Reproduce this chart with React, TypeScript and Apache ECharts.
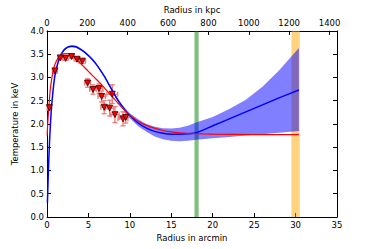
import React, { useEffect, useRef } from "react";
import * as echarts from "echarts";

// Observed data points (arcmin, keV) with errors
const arcmin = [0.28, 0.96, 1.6, 2.25, 2.97, 3.62, 4.26, 4.9, 5.55, 6.27, 6.6, 6.9, 7.56, 7.88, 8.2, 9.17, 9.5];
const tempKeV = [2.35, 3.14, 3.42, 3.41, 3.45, 3.39, 3.35, 2.88, 2.74, 2.76, 2.59, 2.36, 2.34, 2.64, 2.2, 2.11, 2.14];
const xErr = [0.25, 0.3, 0.3, 0.3, 0.3, 0.35, 0.4, 0.35, 0.4, 0.45, 0.45, 0.4, 0.5, 0.65, 0.5, 0.6, 0.8];
const yErr = [0.05, 0.05, 0.04, 0.04, 0.04, 0.04, 0.05, 0.09, 0.1, 0.1, 0.12, 0.14, 0.17, 0.2, 0.17, 0.15, 0.12];

// Red model curve
const redX = [0.02, 0.1, 0.2, 0.4, 0.6, 0.8, 1.0, 1.4, 1.8, 2.4, 3.0, 3.5, 4.0, 4.5, 5.0, 5.5, 6.0, 6.5, 7.0, 7.5, 8.0, 8.5, 9.0, 9.5, 10, 11, 12, 13, 14, 15, 16, 18, 20, 25, 30.4];
const redT = [1.75, 2.05, 2.3, 2.75, 3.0, 3.18, 3.3, 3.43, 3.5, 3.51, 3.48, 3.4, 3.31, 3.22, 3.13, 3.04, 2.95, 2.86, 2.76, 2.66, 2.56, 2.46, 2.36, 2.27, 2.19, 2.06, 1.97, 1.91, 1.86, 1.83, 1.81, 1.79, 1.78, 1.77, 1.77];

// Blue model curve and its uncertainty band
const blueX = [0.05, 0.15, 0.3, 0.5, 0.75, 1.0, 1.5, 2.0, 2.5, 3.0, 3.5, 4.0, 4.5, 5.0, 5.5, 6.0, 6.5, 7.0, 7.5, 8.0, 8.5, 9.0, 9.5, 10, 11, 12, 13, 14, 15, 16, 17, 18, 20, 22, 24, 26, 28, 30.4];
const blueT = [0.3, 0.9, 1.6, 2.25, 2.75, 3.08, 3.42, 3.58, 3.65, 3.67, 3.66, 3.61, 3.55, 3.47, 3.38, 3.27, 3.14, 3.0, 2.84, 2.68, 2.53, 2.4, 2.28, 2.18, 2.02, 1.91, 1.84, 1.8, 1.78, 1.78, 1.79, 1.81, 1.96, 2.11, 2.26, 2.41, 2.56, 2.73];
const bandLow = [0.28, 0.88, 1.58, 2.23, 2.73, 3.06, 3.4, 3.56, 3.63, 3.65, 3.64, 3.59, 3.53, 3.45, 3.36, 3.25, 3.12, 2.98, 2.82, 2.65, 2.5, 2.37, 2.24, 2.12, 1.95, 1.83, 1.73, 1.67, 1.64, 1.63, 1.64, 1.66, 1.69, 1.72, 1.75, 1.78, 1.81, 1.85];
const bandHigh = [0.32, 0.92, 1.62, 2.27, 2.77, 3.1, 3.44, 3.6, 3.67, 3.69, 3.68, 3.63, 3.57, 3.49, 3.4, 3.29, 3.16, 3.02, 2.86, 2.71, 2.56, 2.43, 2.32, 2.23, 2.1, 2.0, 1.94, 1.91, 1.9, 1.92, 1.96, 2.03, 2.15, 2.32, 2.52, 2.8, 3.15, 3.63];

// Vertical marker bands (arcmin)
const greenBand = [17.8, 18.3];
const orangeBand = [29.5, 30.5];

// Axis ranges
const kpcMax = 1437;

const FONT = "DejaVu Sans";

export default function App() {
  const ref = useRef<HTMLDivElement>(null);
  useEffect(() => {
    const chart = echarts.init(ref.current!, null, { renderer: "svg" });
    const txt = { color: "#000", fontFamily: FONT, fontSize: 8.5 };
    const errData = arcmin.map((x, i) => [x, tempKeV[i], xErr[i], yErr[i]]);
    const axisCommon = {
      axisLine: { show: true, onZero: false, lineStyle: { color: "#000", width: 1 } },
      axisTick: { show: true, inside: true, length: 4, lineStyle: { color: "#000" } },
      splitLine: { show: false },
    };
    chart.setOption({
      animation: false,
      grid: { left: 47, right: 37, top: 25, bottom: 32 },
      xAxis: [
        {
          type: "value", position: "bottom", min: 0, max: 35, interval: 5,
          name: "Radius in arcmin", nameLocation: "middle", nameGap: 15,
          nameTextStyle: txt, ...axisCommon,
          axisLabel: { ...txt, margin: 3 },
        },
        {
          type: "value", position: "top", min: 0, max: kpcMax, interval: 200,
          name: "Radius in kpc", nameLocation: "middle", nameGap: 14,
          nameTextStyle: txt, ...axisCommon,
          axisLabel: { ...txt, margin: 3, showMaxLabel: false, formatter: (v: number) => (v % 200 === 0 ? String(v) : "") },
        },
      ],
      yAxis: [
        {
          type: "value", position: "left", min: 0, max: 4, interval: 0.5,
          name: "Temperature in keV", nameLocation: "middle", nameGap: 23,
          nameTextStyle: txt, ...axisCommon,
          axisLabel: { ...txt, margin: 3, formatter: (v: number) => v.toFixed(1) },
        },
        {
          type: "value", position: "right", min: 0, max: 4, interval: 0.5,
          ...axisCommon,
          axisLabel: { show: false },
        },
      ],
      series: [
        {
          type: "custom", name: "band", z: 1,
          data: [[blueX[0], bandLow[0]]],
          encode: { x: 0, y: 1 },
          renderItem: (params: any, api: any) => {
            const pts: number[][] = [];
            blueX.forEach((x, i) => pts.push(api.coord([x, bandHigh[i]])));
            for (let i = blueX.length - 1; i >= 0; i--) pts.push(api.coord([blueX[i], bandLow[i]]));
            return {
              type: "polygon",
              shape: { points: pts, smooth: 0 },
              style: { fill: "rgba(0,0,255,0.5)", stroke: "none" },
            };
          },
        },
        {
          type: "line", name: "bands", symbol: "none", z: 2, data: [],
          markArea: {
            silent: true,
            data: [
              [{ xAxis: greenBand[0], itemStyle: { color: "rgba(0,128,0,0.5)" } }, { xAxis: greenBand[1] }],
              [{ xAxis: orangeBand[0], itemStyle: { color: "rgba(255,165,0,0.5)" } }, { xAxis: orangeBand[1] }],
            ],
          },
        },
        {
          type: "custom", name: "errors", z: 3,
          data: errData,
          encode: { x: 0, y: 1 },
          renderItem: (params: any, api: any) => {
            const x = api.value(0), y = api.value(1), xe = api.value(2), ye = api.value(3);
            const l = api.coord([x - xe, y]);
            const r = api.coord([x + xe, y]);
            const t = api.coord([x, y + ye]);
            const b = api.coord([x, y - ye]);
            const st = { stroke: "#f07878", lineWidth: 1.3 };
            const c = 2.5;
            return {
              type: "group",
              children: [
                { type: "line", shape: { x1: l[0], y1: l[1], x2: r[0], y2: r[1] }, style: st },
                { type: "line", shape: { x1: t[0], y1: t[1], x2: b[0], y2: b[1] }, style: st },
                { type: "line", shape: { x1: l[0], y1: l[1] - c, x2: l[0], y2: l[1] + c }, style: st },
                { type: "line", shape: { x1: r[0], y1: r[1] - c, x2: r[0], y2: r[1] + c }, style: st },
                { type: "line", shape: { x1: t[0] - c, y1: t[1], x2: t[0] + c, y2: t[1] }, style: st },
                { type: "line", shape: { x1: b[0] - c, y1: b[1], x2: b[0] + c, y2: b[1] }, style: st },
              ],
            };
          },
        },
        {
          type: "line", name: "blue", symbol: "none", z: 4, smooth: 0.2,
          data: blueX.map((x, i) => [x, blueT[i]]),
          lineStyle: { color: "#0000ff", width: 1.5 },
        },
        {
          type: "line", name: "red", symbol: "none", z: 4, smooth: 0.2,
          data: redX.map((x, i) => [x, redT[i]]),
          lineStyle: { color: "#ff0000", width: 1.2 },
        },
        {
          type: "scatter", name: "points", z: 5,
          data: arcmin.map((x, i) => [x, tempKeV[i]]),
          symbol: "triangle", symbolRotate: 180, symbolSize: 6,
          itemStyle: { color: "#ff0000", borderColor: "#300", borderWidth: 0.8, opacity: 1 },
        },
      ],
    });
    return () => chart.dispose();
  }, []);
  return <div ref={ref} style={{ width: 374, height: 249, position: "absolute", left: 0, top: 0 }} />;
}
